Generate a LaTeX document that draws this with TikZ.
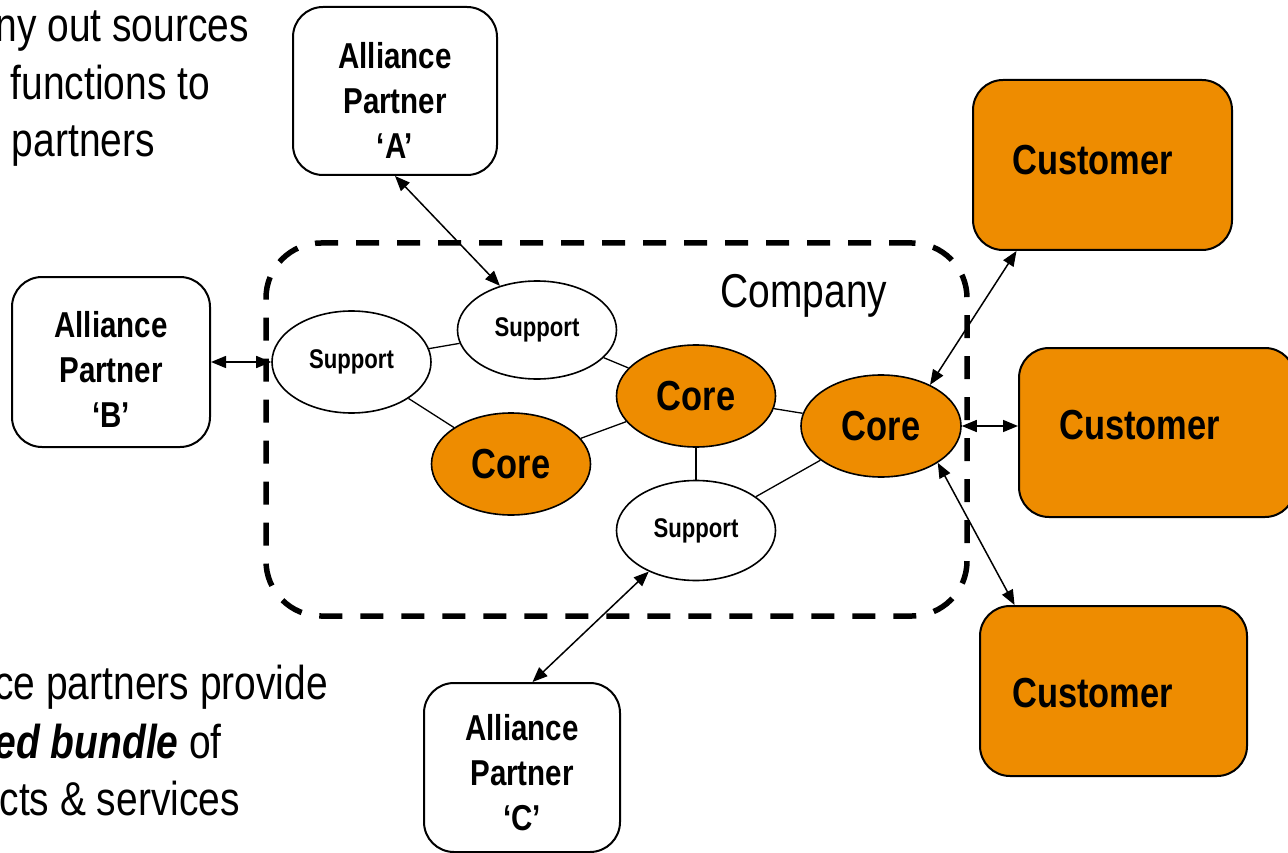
\documentclass[tikz,border=0pt]{standalone}
\usepackage{fontspec}
\setmainfont{Liberation Sans}[FakeStretch=0.82]
\usetikzlibrary{shapes.geometric,arrows.meta}
\definecolor{orng}{RGB}{238,140,0}
\begin{document}
\begin{tikzpicture}[x=1pt,y=-1pt,
  partner/.style={draw, line width=2pt, rounded corners=30pt, minimum width=204pt, minimum height=168pt, inner sep=0pt, fill=white},
  ptext/.style={font=\fontsize{36}{45}\selectfont\bfseries, align=center, inner sep=0pt},
  cust/.style={draw, line width=2pt, rounded corners=30pt, fill=orng, inner sep=0pt, minimum height=170pt},
  ctext/.style={font=\fontsize{42}{50}\selectfont\bfseries, anchor=west, inner sep=0pt},
  ell/.style={ellipse, draw, line width=1.6pt, inner sep=0pt, minimum width=159pt, minimum height=102pt},
  support/.style={ell, fill=white, font=\fontsize{27}{32}\selectfont\bfseries},
  core/.style={ell, fill=orng, font=\fontsize{42}{48}\selectfont\bfseries},
  link/.style={line width=1.3pt},
  biarrow/.style={line width=1.5pt, {Triangle[length=15pt,width=12pt]}-{Triangle[length=15pt,width=12pt]}},
  side/.style={font=\fontsize{47.5}{55}\selectfont, inner sep=0pt}
]
\useasboundingbox (0,0) rectangle (1288,853);

% company region
\node[draw, line width=5.5pt, dash pattern=on 23pt off 18pt, rounded corners=55pt,
      minimum width=701pt, minimum height=373pt, inner sep=0pt] (company) at (616.5,429.5) {};
\node[font=\fontsize{47.5}{55}\selectfont, anchor=base, inner sep=0pt] (comptext) at (804,307) {Company};

% side texts (cut by the left edge, as in the reference)
\node[side, anchor=base east] (t1) at (249,42) {ny out sources};
\node[side, anchor=base east] (t2) at (210,100) {functions to};
\node[side, anchor=base east] (t3) at (155,157) {partners};
\node[side, anchor=base east] (b1) at (328,699) {ce partners provide};
\node[side, anchor=base east] (b2) at (222,758) {\textbf{\textit{ed bundle}} of};
\node[side, anchor=base east] (b3) at (240,815) {cts \& services};

% partners
\node[partner, label={[ptext, yshift=-9pt]center:{Alliance\\Partner\\‘A’}}] (pa) at (395,91) {};
\node[partner, minimum width=198pt, minimum height=170pt, label={[ptext, yshift=-7pt]center:{Alliance\\Partner\\‘B’}}] (pb) at (111,362) {};
\node[partner, minimum width=196pt, minimum height=169pt, label={[ptext, yshift=-5pt]center:{Alliance\\Partner\\‘C’}}] (pc) at (522,767.5) {};

% customers
\node[cust, minimum width=259pt, label={[ctext, xshift=40pt, yshift=5pt]west:Customer}] (c1) at (1102.5,165) {};
\node[cust, minimum width=276pt, minimum height=169pt, label={[ctext, xshift=41pt, yshift=7pt]west:Customer}] (c2) at (1157,432.5) {};
\node[cust, minimum width=267pt, label={[ctext, xshift=33pt, yshift=-2pt]west:Customer}] (c3) at (1113.5,691) {};

% ellipses
\node[support] (sl) at (351.5,362) {Support};
\node[support, minimum height=98pt] (st) at (537,330) {Support};
\node[core] (cl) at (511,464) {Core};
\node[core] (cm) at (696,396) {Core};
\node[support, minimum height=100pt] (sb) at (696,530.5) {Support};
\node[core, minimum width=160pt] (cr) at (881,426) {Core};

% internal links
\draw[link] (sl) -- (st);
\draw[link] (sl) -- (cl);
\draw[link] (st) -- (cm);
\draw[link] (cl) -- (cm);
\draw[link] (cm) -- (sb);
\draw[link] (cm) -- (cr);
\draw[link] (sb) -- (cr);

% arrows
\draw[biarrow] (pa.south) -- (st.130);
\draw[biarrow] (pb.east) -- (sl.west);
\draw[biarrow] (pc.83) -- (sb.221);
\draw[biarrow] (c1.225) -- (cr.40);
\draw[biarrow] (cr.east) -- (cr.east -| c2.west);
\draw[biarrow] (c3.139) -- (cr.-33);
\end{tikzpicture}
\end{document}
